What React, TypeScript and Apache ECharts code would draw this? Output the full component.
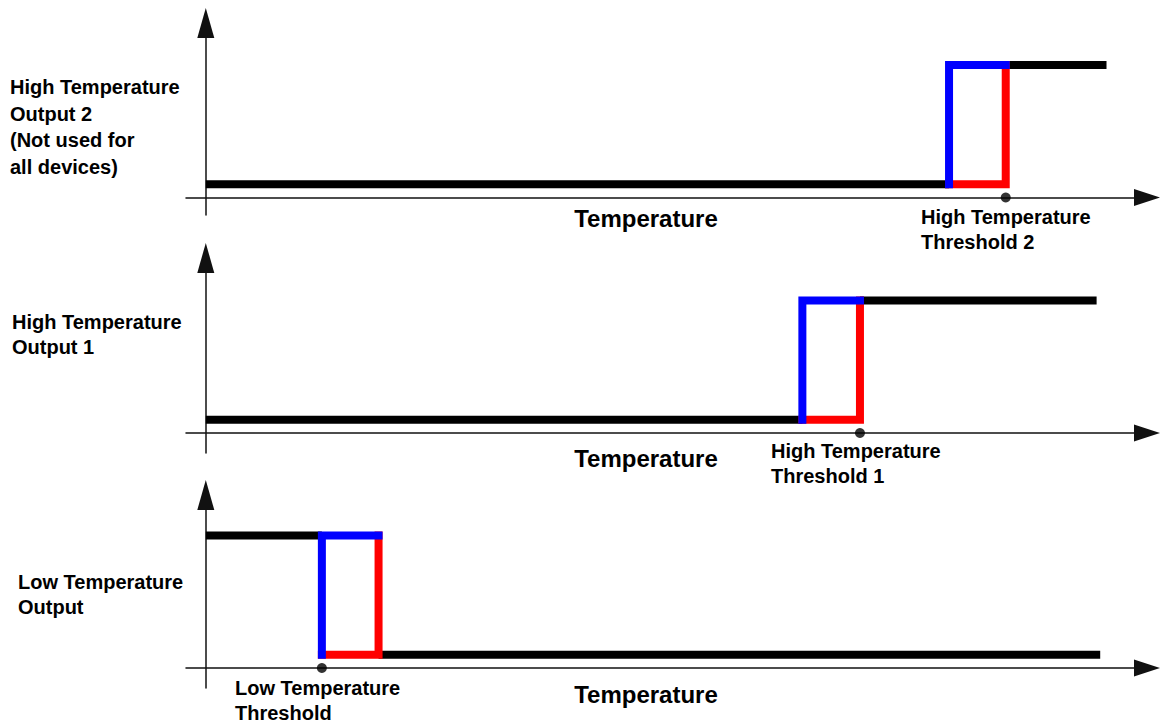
import React, { useEffect, useRef } from 'react';
import * as echarts from 'echarts';

// ---- data ----
const panelLabels: string[][] = [
  ['High Temperature', 'Output 2', '(Not used for', 'all devices)'],
  ['High Temperature', 'Output 1'],
  ['Low Temperature', 'Output'],
];
const thresholdLabels: string[][] = [
  ['High Temperature', 'Threshold 2'],
  ['High Temperature', 'Threshold 1'],
  ['Low Temperature', 'Threshold'],
];
const axisTitle = 'Temperature';
const lowLevel = 1;
const highLevel = 10;
const startLevels = [lowLevel, lowLevel, highLevel];
const endLevels = [highLevel, highLevel, lowLevel];
const blueEdges = [82.6, 66.3, 12.9];
const redEdges = [88.9, 72.7, 19.2];
const lineEnds = [100.1, 99.0, 99.4];
const thresholds = [88.9, 72.7, 12.9];
const xMin = -2.2;
const xMax = 104.6;
const yMins = [-1.32, -1.51, -1.51];
const yMaxs = [13.17, 13.21, 13.06];

// ---- layout ----
const gridTops = [23, 258, 495];
const gridHeights = [192, 195, 193];
const leftLabelX = [10, 12, 18];
const leftLabelY = [87, 322, 582];
const leftLabelStep = [26.5, 25, 25];
const thrLabelX = [921, 771, 235];
const thrLabelY = [217, 451, 688];
const titleY = [218, 458, 694];

const FONT = 'bold 20px "Liberation Sans", Arial, sans-serif';
const TITLE_FONT = 'bold 24px "Liberation Sans", Arial, sans-serif';

export default function App() {
  const ref = useRef<HTMLDivElement>(null);
  useEffect(() => {
    if (!ref.current) return;
    const chart = echarts.init(ref.current, undefined, { renderer: 'svg' });
    const grids: any[] = [];
    const xAxes: any[] = [];
    const yAxes: any[] = [];
    const series: any[] = [];
    const graphics: any[] = [];
    for (let i = 0; i < 3; i++) {
      grids.push({ left: 186, width: 961, top: gridTops[i], height: gridHeights[i] });
      xAxes.push({
        type: 'value', gridIndex: i, min: xMin, max: xMax,
        axisLine: { show: true, onZero: true, symbol: ['none', 'triangle'], symbolSize: [17, 26], lineStyle: { color: '#111', width: 1.5 } },
        axisTick: { show: false }, axisLabel: { show: false }, splitLine: { show: false },
      });
      yAxes.push({
        type: 'value', gridIndex: i, min: yMins[i], max: yMaxs[i],
        axisLine: { show: true, onZero: true, symbol: ['none', 'triangle'], symbolSize: [17, 30], lineStyle: { color: '#111', width: 1.5 } },
        axisTick: { show: false }, axisLabel: { show: false }, splitLine: { show: false },
      });
      const s = startLevels[i], e = endLevels[i], b = blueEdges[i], r = redEdges[i];
      const common = { type: 'line', xAxisIndex: i, yAxisIndex: i, symbol: 'none', showSymbol: false, silent: true };
      series.push({ ...common, z: 2, data: [[0, s], [b, s]], lineStyle: { color: '#000', width: 8, cap: 'butt' } });
      series.push({ ...common, z: 2, data: [[r, e], [lineEnds[i], e]], lineStyle: { color: '#000', width: 8, cap: 'butt' } });
      series.push({ ...common, z: 3, data: [[b, lowLevel], [r, lowLevel], [r, highLevel]], lineStyle: { color: '#ff0000', width: 8, cap: 'square', join: 'miter' } });
      series.push({ ...common, z: 4, data: [[b, lowLevel], [b, highLevel], [r, highLevel]], lineStyle: { color: '#0000ff', width: 8, cap: 'square', join: 'miter' } });
      series.push({ type: 'scatter', xAxisIndex: i, yAxisIndex: i, z: 5, symbolSize: 10, itemStyle: { color: '#000' }, data: [[thresholds[i], 0]], silent: true });

      panelLabels[i].forEach((t, k) => {
        graphics.push({ type: 'text', x: leftLabelX[i], y: leftLabelY[i] + k * leftLabelStep[i], style: { text: t, font: FONT, fill: '#000', textAlign: 'left', textVerticalAlign: 'middle' } });
      });
      thresholdLabels[i].forEach((t, k) => {
        graphics.push({ type: 'text', x: thrLabelX[i], y: thrLabelY[i] + k * 24.5, style: { text: t, font: FONT, fill: '#000', textAlign: 'left', textVerticalAlign: 'middle' } });
      });
      graphics.push({ type: 'text', x: 646, y: titleY[i], style: { text: axisTitle, font: TITLE_FONT, fill: '#000', textAlign: 'center', textVerticalAlign: 'middle' } });
    }
    chart.setOption({
      animation: false,
      backgroundColor: '#fff',
      grid: grids,
      xAxis: xAxes,
      yAxis: yAxes,
      series,
      graphic: graphics,
    });
    return () => chart.dispose();
  }, []);
  return <div ref={ref} style={{ position: 'fixed', left: 0, top: 0, width: 1161, height: 724 }} />;
}
